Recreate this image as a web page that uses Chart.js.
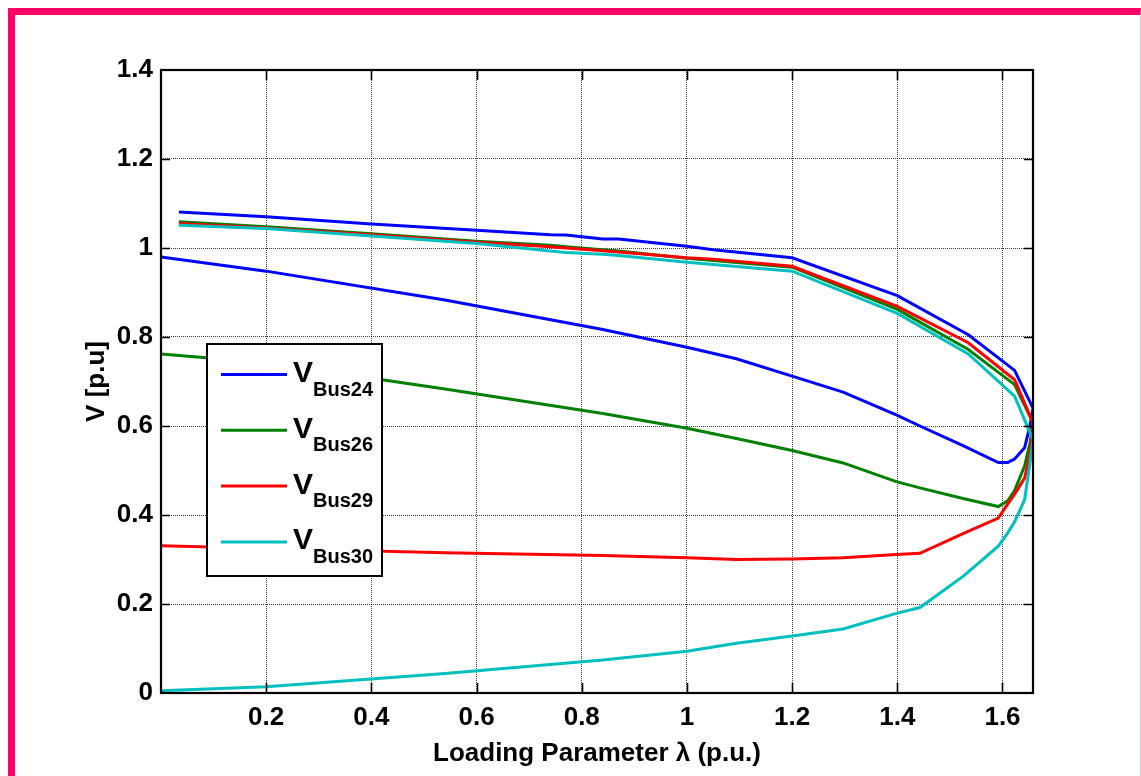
<!DOCTYPE html>
<html><head><meta charset="utf-8">
<script src="https://cdn.jsdelivr.net/npm/chart.js@4.4.1/dist/chart.umd.min.js"></script>
<style>
html,body{margin:0;padding:0;background:#fff;}
#wrap{position:relative;width:1141px;height:776px;overflow:hidden;}
#frame{position:absolute;left:8px;top:8px;width:1125px;height:800px;border-top:7px solid #ff0066;border-left:7px solid #ff0066;border-right:1px solid #f7b3cf;box-sizing:content-box;}
canvas{position:absolute;left:0;top:0;}
</style></head><body>
<div id="wrap"><div id="frame"></div><canvas id="c" width="1141" height="776"></canvas></div>
<script>
// Loading parameter along the continuation path (upper branch to nose, then lower branch back)
const lambdaValues = [0.034, 0.2, 0.4, 0.6, 0.74, 0.77, 0.84, 0.87, 1.0, 1.05, 1.2, 1.4, 1.535, 1.623, 1.658,
  1.652, 1.642, 1.623, 1.61, 1.592, 1.525, 1.443, 1.398, 1.297, 1.2, 1.094, 1.0, 0.84, 0.54, 0.2, 0.0];
const vBus24 = [1.081, 1.070, 1.054, 1.040, 1.030, 1.029, 1.020, 1.020, 1.004, 0.996, 0.978, 0.893, 0.805, 0.725, 0.640,
  0.600, 0.551, 0.526, 0.518, 0.518, 0.556, 0.600, 0.625, 0.676, 0.712, 0.751, 0.777, 0.817, 0.883, 0.948, 0.980];
const vBus26 = [1.059, 1.048, 1.032, 1.015, 1.006, 1.003, 0.996, 0.993, 0.977, 0.972, 0.957, 0.862, 0.772, 0.693, 0.607,
  0.560, 0.510, 0.455, 0.432, 0.419, 0.437, 0.461, 0.475, 0.517, 0.545, 0.572, 0.595, 0.628, 0.683, 0.742, 0.762];
const vBus29 = [1.055, 1.045, 1.030, 1.013, 1.003, 1.000, 0.994, 0.991, 0.978, 0.975, 0.959, 0.869, 0.787, 0.704, 0.607,
  0.535, 0.483, 0.447, 0.425, 0.393, 0.358, 0.314, 0.311, 0.304, 0.301, 0.300, 0.304, 0.309, 0.315, 0.325, 0.331];
const vBus30 = [1.051, 1.044, 1.027, 1.010, 0.993, 0.990, 0.986, 0.983, 0.968, 0.963, 0.948, 0.853, 0.762, 0.667, 0.569,
  0.515, 0.434, 0.385, 0.360, 0.330, 0.262, 0.192, 0.179, 0.144, 0.128, 0.112, 0.094, 0.074, 0.044, 0.014, 0.005];

const seriesNames = ['Bus24', 'Bus26', 'Bus29', 'Bus30'];
const seriesColors = ['#0000ff', '#008000', '#ff0000', '#00bfbf'];
const seriesValues = [vBus24, vBus26, vBus29, vBus30];

const xTickValues = [0, 0.2, 0.4, 0.6, 0.8, 1.0, 1.2, 1.4, 1.6];
const xTickLabels = ['', '0.2', '0.4', '0.6', '0.8', '1', '1.2', '1.4', '1.6'];
const yTickValues = [0, 0.2, 0.4, 0.6, 0.8, 1.0, 1.2, 1.4];
const yTickLabels = ['0', '0.2', '0.4', '0.6', '0.8', '1', '1.2', '1.4'];
const xMin = 0, xMax = 1.658, yMin = 0, yMax = 1.4;
const xTitle = 'Loading Parameter \u03bb (p.u.)';
const yTitle = 'V [p.u]';

const FONT = '"Liberation Sans", Arial, Helvetica, sans-serif';

const datasets = seriesNames.map((name, i) => ({
  label: 'V ' + name,
  data: lambdaValues.map((x, k) => ({ x: x, y: seriesValues[i][k] })),
  borderColor: seriesColors[i],
  backgroundColor: seriesColors[i],
  borderWidth: 3,
  pointRadius: 0,
  tension: 0,
  fill: false,
  order: seriesNames.length - i
}));

const boxPlugin = {
  id: 'boxPlugin',
  afterDatasetsDraw(chart) {
    const ctx = chart.ctx;
    const a = chart.chartArea;
    const xs = chart.scales.x, ys = chart.scales.y;
    ctx.save();
    ctx.strokeStyle = '#000';
    ctx.lineWidth = 1.6;
    ctx.beginPath();
    xTickValues.forEach(v => {
      if (v <= xMin) return;
      const px = Math.round(xs.getPixelForValue(v)) + 0.5;
      ctx.moveTo(px, a.bottom); ctx.lineTo(px, a.bottom - 10);
      ctx.moveTo(px, a.top); ctx.lineTo(px, a.top + 10);
    });
    yTickValues.forEach(v => {
      if (v <= yMin || v >= yMax) return;
      const py = Math.round(ys.getPixelForValue(v)) + 0.5;
      ctx.moveTo(a.left, py); ctx.lineTo(a.left + 9, py);
      ctx.moveTo(a.right, py); ctx.lineTo(a.right - 9, py);
    });
    ctx.stroke();
    ctx.lineWidth = 2.2;
    ctx.strokeRect(a.left, a.top, a.right - a.left, a.bottom - a.top);

    // legend
    const lx = 207, ly = 344, lw = 175, lh = 232;
    ctx.fillStyle = '#fff';
    ctx.fillRect(lx, ly, lw, lh);
    ctx.lineWidth = 2;
    ctx.strokeStyle = '#000';
    ctx.strokeRect(lx, ly, lw, lh);
    chart.data.datasets.forEach((ds, i) => {
      const y = 374.5 + i * 55.8;
      ctx.strokeStyle = ds.borderColor;
      ctx.lineWidth = 3;
      ctx.beginPath();
      ctx.moveTo(221, y); ctx.lineTo(287, y);
      ctx.stroke();
      ctx.fillStyle = '#000';
      ctx.textBaseline = 'alphabetic';
      ctx.textAlign = 'left';
      ctx.font = 'bold 30px ' + FONT;
      ctx.fillText('V', 293, y + 7.5);
      ctx.font = 'bold 20px ' + FONT;
      ctx.fillText(seriesNames[i], 313, y + 21);
    });
    ctx.restore();
  }
};

new Chart(document.getElementById('c'), {
  type: 'line',
  data: { datasets: datasets },
  plugins: [boxPlugin],
  options: {
    responsive: false,
    animation: false,
    devicePixelRatio: 1,
    layout: { padding: { top: 70, right: 108, left: 0, bottom: 0 } },
    plugins: { legend: { display: false }, tooltip: { enabled: false } },
    scales: {
      x: {
        type: 'linear', min: xMin, max: xMax,
        afterBuildTicks(scale) { scale.ticks = xTickValues.map(v => ({ value: v })); },
        afterFit(scale) { scale.height = 83; },
        ticks: {
          color: '#000', padding: 9, maxRotation: 0, autoSkip: false,
          font: { family: FONT, size: 26, weight: 'bold' },
          callback(value, index) { return xTickLabels[index]; }
        },
        grid: { color: 'rgba(0,0,0,0.75)', lineWidth: 1, drawTicks: false },
        border: { display: false, dash: [1, 1] },
        title: {
          display: true, text: xTitle, color: '#000',
          font: { family: FONT, size: 26, weight: 'bold' },
          padding: { top: 0, bottom: 7 }
        }
      },
      y: {
        type: 'linear', min: yMin, max: yMax,
        afterBuildTicks(scale) { scale.ticks = yTickValues.map(v => ({ value: v })); },
        afterFit(scale) { scale.width = 161; },
        ticks: {
          color: '#000', padding: 8, autoSkip: false,
          font: { family: FONT, size: 26, weight: 'bold' },
          callback(value, index) { return yTickLabels[index]; }
        },
        grid: { color: 'rgba(0,0,0,0.75)', lineWidth: 1, drawTicks: false },
        border: { display: false, dash: [1, 1] },
        title: {
          display: true, text: yTitle, color: '#000',
          font: { family: FONT, size: 26, weight: 'bold' },
          padding: { top: 81, bottom: 0 }
        }
      }
    }
  }
});
</script>
</body></html>
